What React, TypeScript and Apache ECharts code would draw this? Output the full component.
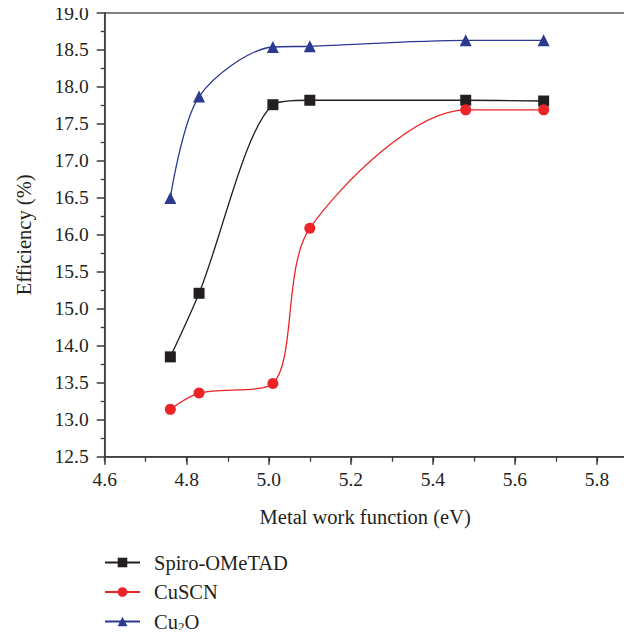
import React, { useEffect, useRef } from "react";
import * as echarts from "echarts";

const workFunction = [4.76, 4.83, 5.01, 5.1, 5.48, 5.67];
const spiroOMeTAD = [13.85, 15.21, 17.76, 17.82, 17.82, 17.81];
const cuSCN = [13.14, 13.36, 13.49, 16.09, 17.69, 17.69];
const cu2O = [16.5, 17.87, 18.54, 18.55, 18.63, 18.63];
// tick labels exactly as printed on the original y axis (14.5 is absent)
const yTickLabels = [12.5, 13.0, 13.5, 14.0, 15.0, 15.5, 16.0, 16.5, 17.0, 17.5, 18.0, 18.5, 19.0];

const FONT = "Liberation Serif";
const TEXT = "#231f20";

// place a value on the printed (evenly spaced) tick positions
function toAxis(v: number): number {
  for (let i = 0; i < yTickLabels.length - 1; i++) {
    const a = yTickLabels[i];
    const b = yTickLabels[i + 1];
    if (v >= a && v <= b) return i + (v - a) / (b - a);
  }
  return v < yTickLabels[0] ? 0 : yTickLabels.length - 1;
}

function pairs(ys: number[]) {
  return workFunction.map((x, i) => [x, toAxis(ys[i])]);
}

export default function App() {
  const ref = useRef<HTMLDivElement>(null);
  useEffect(() => {
    if (!ref.current) return;
    const chart = echarts.init(ref.current, null, { renderer: "svg" });
    const mkSeries = (name: string, ys: number[], color: string, symbol: string, size: number) => ({
      name,
      type: "line",
      data: pairs(ys),
      smooth: 0.3,
      symbol,
      symbolSize: size,
      itemStyle: { color },
      lineStyle: { color, width: 1.3 },
      xAxisIndex: 0,
      yAxisIndex: 0,
    });
    chart.setOption({
      animation: false,
      textStyle: { fontFamily: FONT, color: TEXT },
      grid: {
        left: 104.7,
        right: 6.3,
        top: 13,
        bottom: 181.3,
        show: true,
        borderColor: "#5a5a5a",
        borderWidth: 1.5,
        backgroundColor: "transparent",
      },
      xAxis: [
        {
          type: "value",
          min: 4.6,
          max: 5.87,
          interval: 0.2,
          name: "Metal work function (eV)",
          nameLocation: "middle",
          nameGap: 50,
          nameTextStyle: { fontFamily: FONT, fontSize: 20.5, color: TEXT },
          axisLine: { lineStyle: { color: "#3a3a3a", width: 1.5 } },
          axisTick: { show: true, length: 8, lineStyle: { color: "#3a3a3a", width: 1.5 } },
          axisLabel: {
            fontFamily: FONT,
            fontSize: 19.5,
            color: TEXT,
            margin: 13,
            showMaxLabel: false,
            formatter: (v: number) => v.toFixed(1),
          },
          splitLine: { show: false },
        },
        {
          type: "value",
          min: 4.6,
          max: 5.87,
          interval: 0.1,
          position: "bottom",
          axisLine: { show: false },
          axisTick: { show: true, length: 5, lineStyle: { color: "#3a3a3a", width: 1.3 } },
          axisLabel: { show: false },
          splitLine: { show: false },
        },
      ],
      yAxis: {
        type: "value",
        min: 0,
        max: yTickLabels.length - 1,
        interval: 1,
        name: "Efficiency (%)",
        nameLocation: "middle",
        nameGap: 70,
        nameTextStyle: { fontFamily: FONT, fontSize: 20.5, color: TEXT },
        axisLine: { show: true, lineStyle: { color: "#3a3a3a", width: 1.5 } },
        axisTick: { show: true, length: 8, lineStyle: { color: "#3a3a3a", width: 1.5 } },
        minorTick: { show: true, splitNumber: 2, length: 4, lineStyle: { color: "#3a3a3a", width: 1.3 } },
        axisLabel: {
          fontFamily: FONT,
          fontSize: 19.5,
          color: TEXT,
          margin: 16,
          formatter: (v: number) => {
            const t = yTickLabels[Math.round(v)];
            return t === undefined ? "" : t.toFixed(1);
          },
        },
        splitLine: { show: false },
        minorSplitLine: { show: false },
      },
      legend: {
        orient: "vertical",
        left: 104,
        top: 552,
        height: 120,
        padding: 0,
        itemWidth: 35,
        itemHeight: 12,
        itemGap: 8.5,
        textStyle: {
          fontFamily: FONT,
          fontSize: 20.5,
          color: TEXT,
          padding: [0, 0, 0, 9],
          rich: {
            sub: { fontFamily: FONT, fontSize: 13, color: TEXT, verticalAlign: "bottom", padding: [9, 0, 0, 0] },
          },
        },
        formatter: (name: string) => (name === "Cu2O" ? "Cu{sub|2}O" : name),
        data: ["Spiro-OMeTAD", "CuSCN", "Cu2O"],
      },
      series: [
        mkSeries("Spiro-OMeTAD", spiroOMeTAD, "#231f20", "rect", 11),
        mkSeries("CuSCN", cuSCN, "#ec2427", "circle", 11),
        mkSeries("Cu2O", cu2O, "#2b3990", "triangle", 12),
      ],
    });
    return () => chart.dispose();
  }, []);
  return <div ref={ref} style={{ width: 632, height: 638, margin: -8 }} />;
}
